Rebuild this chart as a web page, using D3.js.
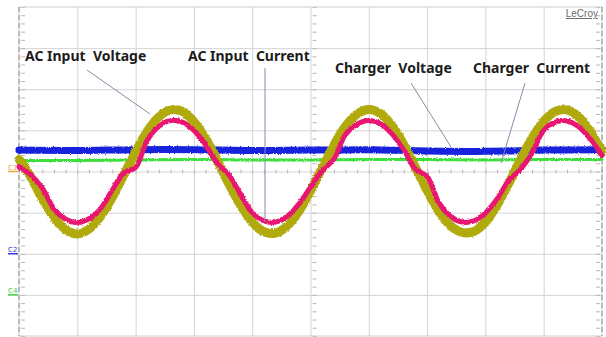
<!DOCTYPE html>
<html>
<head>
<meta charset="utf-8">
<script src="https://cdn.jsdelivr.net/npm/d3@7"></script>
<style>
  html, body { margin: 0; padding: 0; background: #fff; }
  svg { display: block; }
  .grid line { stroke: #d4d4d4; stroke-width: 1; }
  .grid path { display: none; }
  .minor line { stroke: #b8b8b8; stroke-width: 1; }
  .minor path { display: none; }
  .label { font-family: "Noto Sans", "DejaVu Sans", sans-serif; font-weight: bold; font-size: 14px; fill: #1c1c1c; white-space: pre; }
  .leader { stroke: #7f8fa8; stroke-width: 1; fill: none; }
  .trace { fill: none; stroke-linejoin: round; stroke-linecap: round; }
</style>
</head>
<body>
<svg id="scope" width="606" height="337"></svg>
<script>
const width = 606;
const height = 337;
const plot = { left: 19, right: 602, top: 7, bottom: 336 };

// time base: 5 ms/div, 10 divisions; vertical: 8 divisions, values in divisions from centre
const sampleMs = [0, 1, 2, 3, 4, 5, 6, 7, 8, 9, 10, 11, 12, 13, 14, 15, 16, 17, 18, 19, 20,
  21, 22, 23, 24, 25, 26, 27, 28, 29, 30, 31, 32, 33, 34, 35, 36, 37, 38, 39, 40,
  41, 42, 43, 44, 45, 46, 47, 48, 49, 50];

// AC input voltage (yellow trace)
const acVoltage = [0.30, -0.13, -0.66, -1.11, -1.41, -1.52, -1.40, -1.09, -0.63, -0.08, 0.48,
  0.98, 1.33, 1.50, 1.46, 1.21, 0.80, 0.27, -0.30, -0.82, -1.23,
  -1.47, -1.50, -1.33, -0.97, -0.47, 0.09, 0.64, 1.10, 1.40, 1.51,
  1.41, 1.11, 0.65, 0.10, -0.46, -0.96, -1.32, -1.48, -1.46, -1.23,
  -0.82, -0.29, 0.28, 0.81, 1.22, 1.46, 1.50, 1.33, 0.97, 0.47];

// AC input current (pink trace, flattened around zero crossings)
const acCurrent = [0.12, -0.08, -0.40, -0.91, -1.16, -1.24, -1.15, -0.90, -0.45, -0.03, 0.10,
  0.76, 1.10, 1.24, 1.20, 1.00, 0.65, 0.20, -0.08, -0.55, -1.00,
  -1.20, -1.23, -1.09, -0.79, -0.38, 0.02, 0.30, 0.90, 1.15, 1.24,
  1.16, 0.91, 0.53, 0.06, -0.12, -0.75, -1.09, -1.23, -1.20, -1.01,
  -0.67, -0.22, 0.05, 0.45, 1.00, 1.20, 1.23, 1.09, 0.79, 0.39];

// charger voltage (blue) and charger current (green), sampled every 5 ms
const chargerMs = [0, 5, 10, 15, 20, 25, 30, 35, 40, 45, 50];
const chargerVoltage = [0.52, 0.51, 0.53, 0.53, 0.51, 0.52, 0.53, 0.50, 0.49, 0.52, 0.53];
const chargerCurrent = [0.27, 0.27, 0.28, 0.29, 0.28, 0.28, 0.29, 0.29, 0.28, 0.29, 0.29];

const annotations = [
  { text: "AC Input  Voltage", x: 25, y: 61, from: [87, 70], to: [150, 114] },
  { text: "AC Input  Current", x: 188, y: 61, from: [265, 68], to: [265, 222] },
  { text: "Charger  Voltage", x: 335, y: 73, from: [411, 83], to: [451, 147] },
  { text: "Charger  Current", x: 473, y: 73, from: [525, 83], to: [501, 163] }
];

const channelMarks = [
  { name: "C1", level: 0, color: "#e8a33a" },
  { name: "C2", level: -2, color: "#3a3ad8" },
  { name: "C4", level: -3, color: "#3fc83f" }
];

const svg = d3.select("#scope");

const x = d3.scaleLinear().domain([0, 50]).range([plot.left, plot.right]);
const y = d3.scaleLinear().domain([-4, 4]).range([plot.bottom, plot.top]);

// fine fuzz on the trace edges
const filter = svg.append("defs").append("filter")
  .attr("id", "noise").attr("x", "-5%").attr("y", "-20%").attr("width", "110%").attr("height", "140%");
filter.append("feTurbulence")
  .attr("type", "fractalNoise").attr("baseFrequency", "2.4 2.4").attr("numOctaves", 1).attr("seed", 7)
  .attr("result", "turb");
filter.append("feDisplacementMap")
  .attr("in", "SourceGraphic").attr("in2", "turb").attr("scale", 3)
  .attr("xChannelSelector", "R").attr("yChannelSelector", "G");

// grid
svg.append("g").attr("class", "grid")
  .attr("transform", `translate(0,${plot.bottom})`)
  .call(d3.axisBottom(x).tickValues(d3.range(5, 50, 5)).tickSize(-(plot.bottom - plot.top)).tickFormat(""));
svg.append("g").attr("class", "grid")
  .attr("transform", `translate(${plot.left},0)`)
  .call(d3.axisLeft(y).tickValues(d3.range(-3, 4, 1)).tickSize(-(plot.right - plot.left)).tickFormat(""));

// minor ticks on the centre cross and the frame
svg.append("g").attr("class", "minor")
  .attr("transform", `translate(0,${y(0) + 2})`)
  .call(d3.axisBottom(x).tickValues(d3.range(0, 50.01, 1)).tickSize(-4).tickFormat(""));
svg.append("g").attr("class", "minor")
  .attr("transform", `translate(${x(25) + 2},0)`)
  .call(d3.axisLeft(y).tickValues(d3.range(-4, 4.01, 0.2)).tickSize(-4).tickFormat(""));
svg.append("g").attr("class", "minor")
  .attr("transform", `translate(${plot.left + 2},0)`)
  .call(d3.axisLeft(y).tickValues(d3.range(-4, 4.01, 0.2)).tickSize(-4).tickFormat(""));
svg.append("g").attr("class", "minor")
  .attr("transform", `translate(${plot.right - 2},0)`)
  .call(d3.axisRight(y).tickValues(d3.range(-4, 4.01, 0.2)).tickSize(-4).tickFormat(""));

// frame
svg.append("rect")
  .attr("x", plot.left).attr("y", plot.top)
  .attr("width", plot.right - plot.left).attr("height", plot.bottom - plot.top)
  .attr("fill", "none").attr("stroke", "#cfcfcf");
svg.selectAll("line.edge").data([plot.left, plot.right]).enter().append("line")
  .attr("class", "edge")
  .attr("x1", d => d).attr("x2", d => d).attr("y1", plot.top).attr("y2", plot.bottom)
  .attr("stroke", "#8a8a8a").attr("stroke-dasharray", "5,3");

// traces
const line = d3.line().curve(d3.curveCatmullRom.alpha(0.5));
const traces = [
  { ms: chargerMs, values: chargerCurrent, color: "#3ee03a", width: 3 },
  { ms: chargerMs, values: chargerVoltage, color: "#1424dc", width: 7 },
  { ms: sampleMs, values: acVoltage, color: "#b0aa10", width: 9 },
  { ms: sampleMs, values: acCurrent, color: "#e8156f", width: 5 }
];
const traceGroup = svg.append("g").attr("filter", "url(#noise)");
traceGroup.selectAll("path").data(traces).enter().append("path")
  .attr("class", "trace")
  .attr("stroke", d => d.color)
  .attr("stroke-width", d => d.width)
  .attr("d", d => line(d.ms.map((t, i) => [x(t), y(d.values[i])])));

// channel markers
const marks = svg.selectAll("g.mark").data(channelMarks).enter().append("g")
  .attr("class", "mark")
  .attr("transform", d => `translate(8,${y(d.level)})`);
marks.append("text")
  .attr("y", -2)
  .attr("font-family", "DejaVu Sans, sans-serif").attr("font-size", 7)
  .attr("fill", d => d.color)
  .text(d => d.name);
marks.append("line")
  .attr("x1", 0).attr("x2", 10).attr("y1", 0).attr("y2", 0)
  .attr("stroke", d => d.color).attr("stroke-width", 1.5);

// annotations
svg.selectAll("line.leader").data(annotations).enter().append("line")
  .attr("class", "leader")
  .attr("x1", d => d.from[0]).attr("y1", d => d.from[1])
  .attr("x2", d => d.to[0]).attr("y2", d => d.to[1]);
svg.selectAll("text.label").data(annotations).enter().append("text")
  .attr("class", "label")
  .attr("x", d => d.x).attr("y", d => d.y)
  .text(d => d.text);

// brand
svg.append("text")
  .attr("x", 598).attr("y", 17).attr("text-anchor", "end")
  .attr("font-family", "Liberation Sans, Arial, sans-serif").attr("font-size", 10)
  .attr("fill", "#6a6a6a").attr("text-decoration", "underline")
  .text("LeCroy");
</script>
</body>
</html>
